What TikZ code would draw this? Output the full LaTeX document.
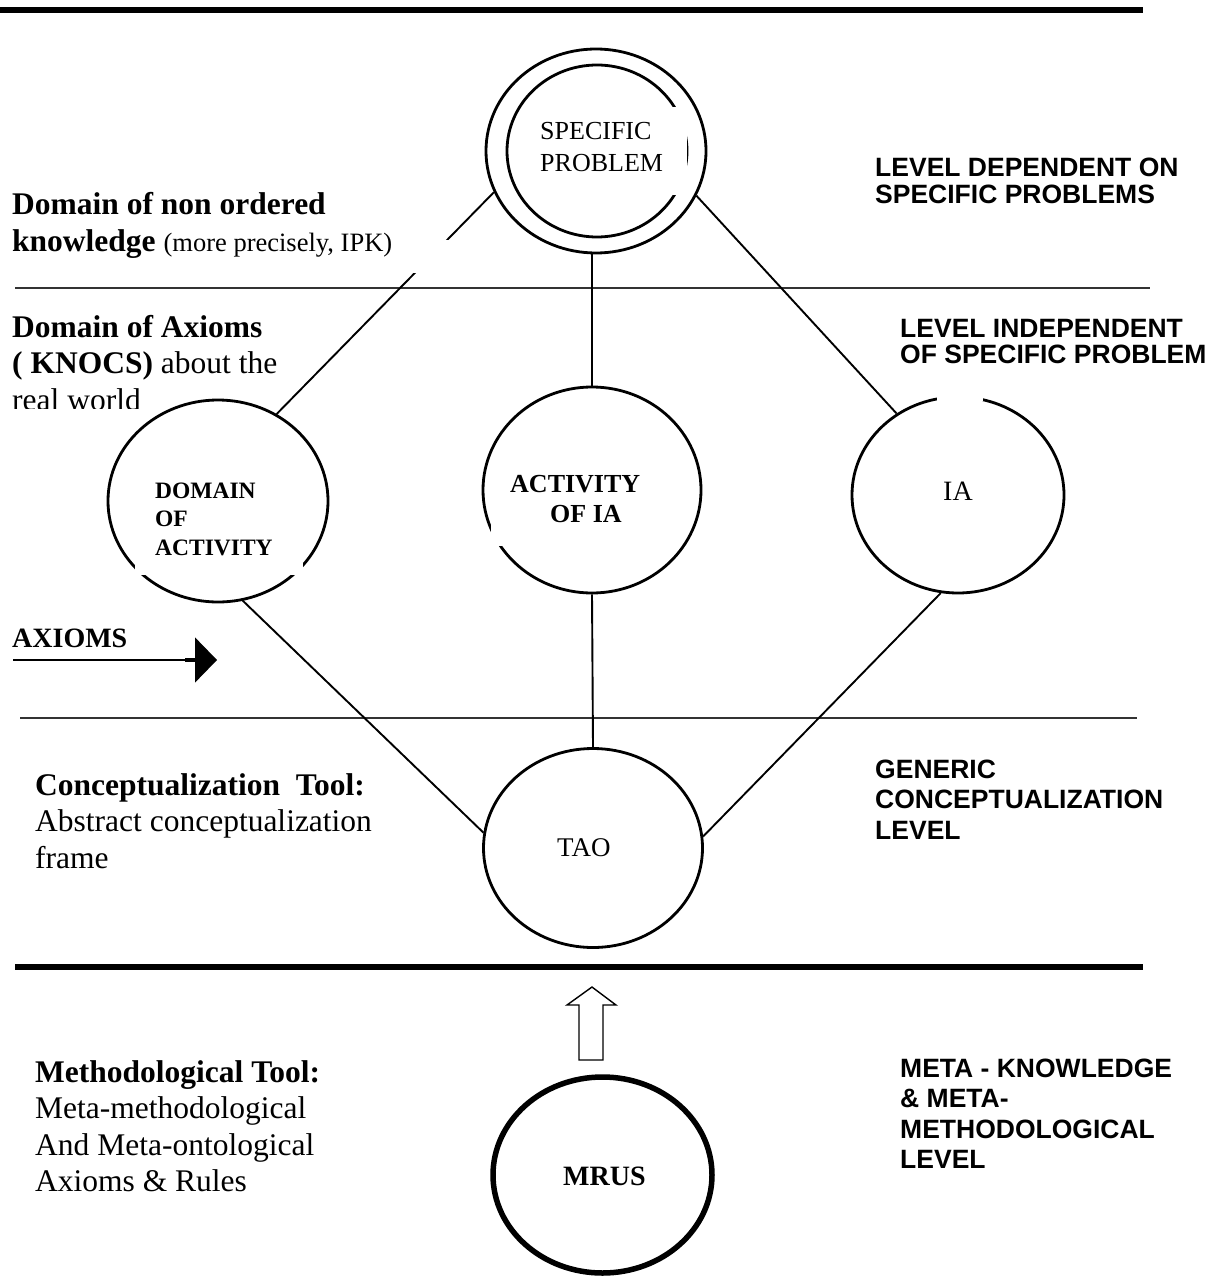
\documentclass[tikz,border=0pt]{standalone}
\usepackage{fontspec}
\setmainfont{Liberation Serif}
\newfontfamily\arialfont{Liberation Sans}
\usetikzlibrary{shapes.geometric,arrows.meta}
% left-aligned stack of lines whose baseline is the first line
\newcommand{\stack}[1]{\begin{tabular}[t]{@{}l@{}}#1\end{tabular}}
\newcommand{\fsz}[2]{\fontsize{#1}{#2}\selectfont}

\begin{document}
\begin{tikzpicture}[x=1pt,y=-1pt,
  orb/.style={ellipse, draw, line width=2.8pt, inner sep=0pt},
  link/.style={line width=1.9pt},
  rule/.style={draw=black!80, line width=1.6pt},
  heavy/.style={line width=6.5pt},
  lvl/.style={anchor=base west, inner sep=0pt, font=\arialfont\bfseries\fsz{26.5}{26.5}},
  side/.style={anchor=base west, inner sep=0pt, font=\fsz{31.5}{36.5}},
  lab/.style={anchor=base west, inner sep=0pt},
  gap/.style={fill=white, draw=none},
]
\useasboundingbox (0,0) rectangle (1218,1281);

% level separators
\draw[heavy] (0,10) -- (1143,10);
\draw[rule] (15,288) -- (1150,288);
\draw[rule] (20,718) -- (1137,718);
\draw[heavy] (15,967) -- (1143,967);

% concept circles
\node[orb, minimum width=220pt, minimum height=204pt] (sp) at (596,151) {};
\node[orb, minimum width=180pt, minimum height=172pt] (spin) at (597,151) {};
\node[orb, minimum width=220pt, minimum height=202pt] (dom) at (218,501) {};
\node[orb, minimum width=218pt, minimum height=206pt] (ac) at (592,490) {};
\node[orb, minimum width=212pt, minimum height=196pt] (ia) at (958,495) {};
\node[orb, minimum width=219pt, minimum height=199pt] (tao) at (593,848) {};
\node[orb, line width=5.5pt, minimum width=219pt, minimum height=196pt] (mrus) at (602.5,1175) {};

% connectors
\draw[link] (sp.202.7) -- (dom.56.2);
\draw[link] (sp.336.3) -- (ia.127.4);
\draw[link] (ac.north) -- (ac.north |- sp.south);
\draw[link] (dom.284) -- (tao.172);
\draw[link] (ac.south) -- (tao.north);
\draw[link] (ia.260.9) -- (tao.6);

% white label backgrounds breaking some strokes
\fill[gap] (530,107) rectangle (686.5,195);
\fill[gap] (135,460) rectangle (303,575);
\fill[gap] (490.5,457) rectangle (680,546);
\fill[gap] (937,390) rectangle (983,401);
\fill[gap] (400,240) rectangle (452,273);

% hollow arrow from MRUS up to the conceptual levels
\draw[line width=1.4pt, fill=white, line join=miter]
  (579,1060) -- (579,1005) -- (567,1005) -- (592,987) -- (616,1005)
  -- (603,1005) -- (603,1060) -- cycle;

% axioms arrow
\coordinate (axtail) at (13,660);
\coordinate (axhead) at (217,660);
\draw[line width=1.3pt, -{Triangle[length=22pt,width=45pt]}] (axtail) -- (axhead);
\draw[line width=3.2pt] (185,660) -- (196,660);

% circle labels
\node[lab, font=\fsz{26}{32}] (spt) at (540,140) {\stack{SPECIFIC\\PROBLEM}};
\node[lab, font=\bfseries\fsz{23.5}{28.5}] (domt) at (155,498) {\stack{DOMAIN\\OF\\ACTIVITY}};
\node[lab, font=\bfseries\fsz{26}{30}] (act) at (510,492) {\stack{ACTIVITY\\\hspace*{40pt}OF IA}};
\node[anchor=base, inner sep=0pt, font=\fsz{28}{30}] (iat) at (958,500) {IA};
\node[lab, font=\fsz{27}{30}] (taot) at (557,856) {TAO};
\node[lab, font=\bfseries\fsz{28}{30}] (mrust) at (563,1185) {MRUS};
\node[lab, font=\bfseries\fsz{28}{30}] (axt) at (12,647) {AXIOMS};

% left-hand descriptions
\node[side] (nonord) at (12,215) {\stack{\textbf{Domain of non ordered}\\
  \textbf{knowledge} {\fsz{26.5}{36.5}(more precisely, IPK)}}};
\begin{scope}
  \clip (0,295) rectangle (460,408);
  \node[side] (axdom) at (12,337) {\stack{\textbf{Domain of Axioms}\\
    \textbf{( KNOCS)} about the\\real world}};
\end{scope}
\node[side] (ctool) at (35,795) {\stack{\textbf{Conceptualization~\ Tool:}\\
  Abstract conceptualization\\frame}};
\node[side] (mtool) at (35,1082) {\stack{\textbf{Methodological Tool:}\\
  Meta-methodological\\And Meta-ontological\\Axioms \& Rules}};

% right-hand level names
\node[lvl] (lev1) at (875,177) {\stack{LEVEL DEPENDENT ON\\SPECIFIC PROBLEMS}};
\node[lvl] (lev2) at (900,337) {\stack{LEVEL INDEPENDENT\\OF SPECIFIC PROBLEM}};
\node[lvl] (lev3) at (875,778) {\stack{GENERIC\\[4pt]CONCEPTUALIZATION\\[4pt]LEVEL}};
\node[lvl] (lev4) at (900,1077) {\stack{META - KNOWLEDGE\\[4pt]\& META-\\[4pt]METHODOLOGICAL\\[4pt]LEVEL}};
\end{tikzpicture}
\end{document}
